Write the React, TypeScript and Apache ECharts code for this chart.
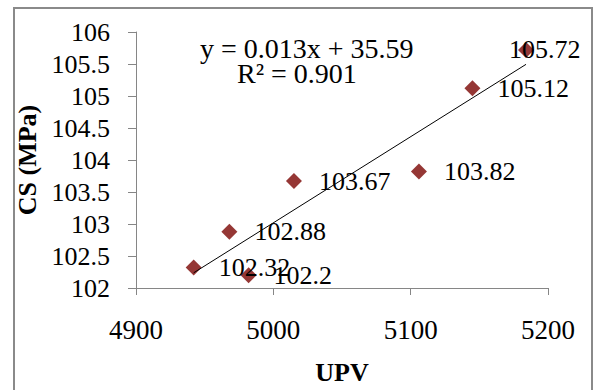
import React, { useEffect, useRef } from "react";
import * as echarts from "echarts";

const upv = [4942, 4968, 4982, 5015, 5106, 5145, 5184];
const cs = [102.32, 102.88, 102.2, 103.67, 103.82, 105.12, 105.72];
const xTicks = [4900, 5000, 5100, 5200];
const yTicks = [102, 102.5, 103, 103.5, 104, 104.5, 105, 105.5, 106];
const equationText = "y = 0.013x + 35.59";
const r2Text = "R\u00B2 = 0.901";
const xTitle = "UPV";
const yTitle = "CS (MPa)";

const FONT = "Liberation Serif";
const MARKER = "#953735";

function regression(xs: number[], ys: number[]) {
  const n = xs.length;
  const mx = xs.reduce((a, b) => a + b, 0) / n;
  const my = ys.reduce((a, b) => a + b, 0) / n;
  let sxy = 0;
  let sxx = 0;
  for (let i = 0; i < n; i++) {
    sxy += (xs[i] - mx) * (ys[i] - my);
    sxx += (xs[i] - mx) * (xs[i] - mx);
  }
  const slope = sxy / sxx;
  return { slope, intercept: my - slope * mx };
}

export default function App() {
  const ref = useRef<HTMLDivElement>(null);
  useEffect(() => {
    if (!ref.current) return;
    const chart = echarts.init(ref.current, null, { renderer: "svg" });
    const { slope, intercept } = regression(upv, cs);
    const xMin = Math.min(...upv);
    const xMax = Math.max(...upv);
    const trend = [
      [xMin, slope * xMin + intercept],
      [xMax, slope * xMax + intercept],
    ];
    const lastIdx = upv.length - 1;
    const scatterData = upv.map((x, i) => {
      const item: any = { value: [x, cs[i]] };
      if (i === lastIdx) {
        item.label = { position: [-9, 8], align: "left", verticalAlign: "middle" };
      }
      return item;
    });
    chart.setOption({
      animation: false,
      backgroundColor: "#ffffff",
      grid: { left: 136, top: 32, right: 46, bottom: 102, outerBoundsMode: "none", containLabel: false },
      xAxis: {
        type: "value",
        min: xTicks[0],
        max: xTicks[xTicks.length - 1],
        interval: 100,
        name: xTitle,
        nameLocation: "middle",
        nameGap: 71,
        nameTextStyle: { fontFamily: FONT, fontSize: 26, fontWeight: "bold", color: "#000" },
        axisLine: { show: true, lineStyle: { color: "#868686", width: 1 } },
        axisTick: { show: true, length: 7, inside: false, lineStyle: { color: "#868686" } },
        axisLabel: { fontFamily: FONT, fontSize: 27, color: "#000", margin: 28, formatter: (v: number) => String(v) },
        splitLine: { show: false },
      },
      yAxis: {
        type: "value",
        min: yTicks[0],
        max: yTicks[yTicks.length - 1],
        interval: 0.5,
        name: yTitle,
        nameLocation: "middle",
        nameGap: 95,
        nameRotate: 90,
        nameTextStyle: { fontFamily: FONT, fontSize: 26, fontWeight: "bold", color: "#000" },
        axisLine: { show: true, lineStyle: { color: "#868686", width: 1 } },
        axisTick: { show: true, length: 8, inside: false, lineStyle: { color: "#868686" } },
        axisLabel: { fontFamily: FONT, fontSize: 26, color: "#000", margin: 26, formatter: (v: number) => String(v) },
        splitLine: { show: false },
      },
      series: [
        {
          type: "scatter",
          data: scatterData,
          symbol: "diamond",
          symbolSize: 16,
          itemStyle: { color: MARKER, opacity: 1 },
          z: 3,
          label: {
            show: true,
            position: "right",
            distance: 17,
            fontFamily: FONT,
            fontSize: 26,
            color: "#000",
            formatter: (p: any) => String(p.value[1]),
          },
        },
        {
          type: "line",
          data: trend,
          symbol: "none",
          lineStyle: { color: "#000000", width: 1 },
          z: 4,
          silent: true,
        },
      ],
      graphic: [
        {
          type: "rect",
          shape: { x: 14, y: 8, width: 578, height: 400 },
          style: { fill: "none", stroke: "#8a8a8a", lineWidth: 2 },
          silent: true,
        },
        {
          type: "text",
          left: 200,
          top: 34,
          style: { text: equationText, fontFamily: FONT, fontSize: 28, fill: "#000" },
        },
        {
          type: "text",
          left: 237,
          top: 59,
          style: { text: r2Text, fontFamily: FONT, fontSize: 28, fill: "#000" },
        },
      ],
    });
    return () => chart.dispose();
  }, []);
  return <div ref={ref} style={{ position: "fixed", left: 0, top: 0, width: 594, height: 390 }} />;
}
